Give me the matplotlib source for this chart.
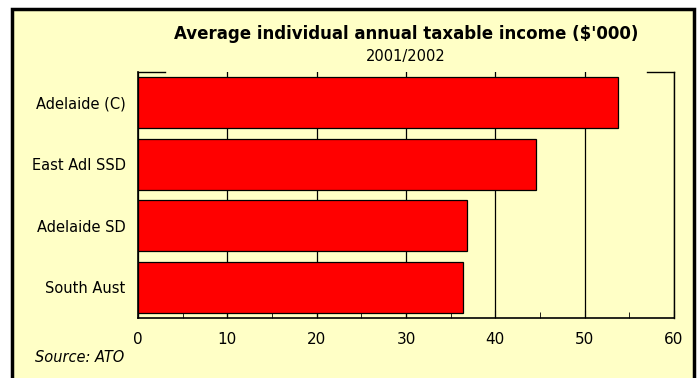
import matplotlib.pyplot as plt
from matplotlib.patches import Rectangle
from matplotlib.ticker import MultipleLocator

# データ
regions = ['Adelaide (C)', 'East Adl SSD', 'Adelaide SD', 'South Aust']
income = [53.7, 44.6, 36.8, 36.4]
xticks = [0, 10, 20, 30, 40, 50, 60]

bg = '#FFFFC6'
fig = plt.figure(figsize=(6.98, 3.78), dpi=100, facecolor='white')

# 外枠
frame = Rectangle((12 / 698, -0.05), 682 / 698, 1.05 - 9 / 378, transform=fig.transFigure,
                  facecolor=bg, edgecolor='black', linewidth=2.5, zorder=-1)
fig.patches.append(frame)

ax = fig.add_axes([138 / 698, 1 - 318 / 378, 536 / 698, 246 / 378])
ax.set_facecolor(bg)

ypos = list(range(len(regions)))
ax.barh(ypos, income, height=0.83, color='#FF0000', edgecolor='black', linewidth=0.9, zorder=3)

ax.set_xlim(0, 60)
ax.set_ylim(len(regions) - 0.5, -0.5)
ax.set_xticks(xticks)
ax.xaxis.set_minor_locator(MultipleLocator(5))
ax.set_yticks(ypos)
ax.set_yticklabels(regions, fontsize=10.5)
ax.tick_params(axis='x', which='major', direction='in', length=6, labelsize=11, pad=10)
ax.tick_params(axis='x', which='minor', direction='in', length=4)
ax.tick_params(axis='y', direction='in', length=6, pad=9)
ax.grid(axis='x', color='black', linewidth=0.9, zorder=1)

ax.spines['top'].set_visible(False)
ax.spines['left'].set_linewidth(1.2)
ax.spines['bottom'].set_linewidth(1.2)
ax.spines['right'].set_linewidth(1.0)
# 上枠の残り部分
ax.plot([0, 0.05], [1, 1], transform=ax.transAxes, color='black', lw=1.0, clip_on=False)
ax.plot([0.95, 1], [1, 1], transform=ax.transAxes, color='black', lw=1.0, clip_on=False)

cx = (138 + 674) / 2 / 698
fig.text(cx, 1 - 34 / 378, "Average individual annual taxable income ($'000)",
         ha='center', va='center', fontsize=12, fontweight='heavy')
fig.text(cx, 1 - 57 / 378, '2001/2002', ha='center', va='center', fontsize=10.5)
fig.text(35 / 698, 1 - 358 / 378, 'Source: ATO', ha='left', va='center',
         fontsize=10.5, style='italic')

fig.savefig('out.png', dpi=100, facecolor='white')
